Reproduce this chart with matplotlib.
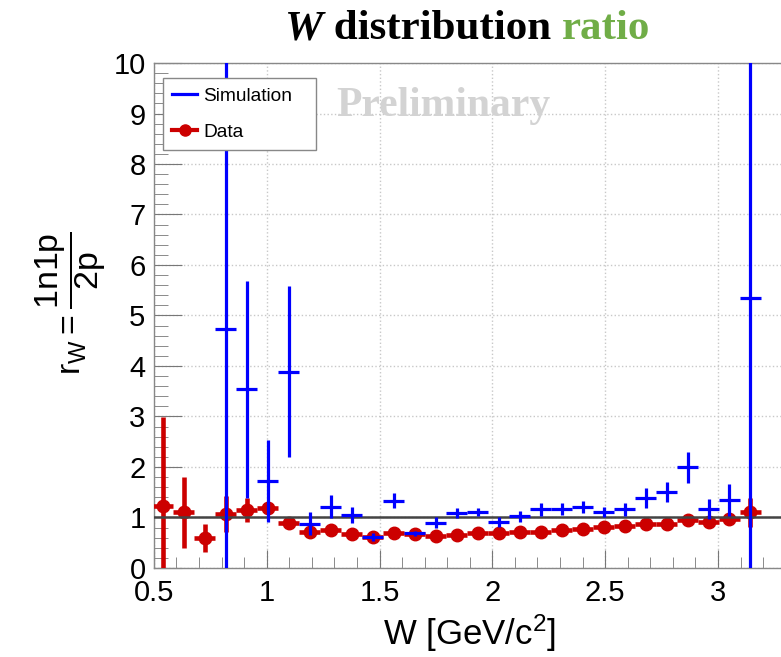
import matplotlib
matplotlib.use('Agg')
import matplotlib.pyplot as plt
import numpy as np
from matplotlib.lines import Line2D
from matplotlib.ticker import MultipleLocator

plt.rcParams['font.family'] = ['Liberation Sans', 'DejaVu Sans']
plt.rcParams['mathtext.fontset'] = 'custom'
plt.rcParams['mathtext.rm'] = 'Liberation Sans'
plt.rcParams['mathtext.it'] = 'Liberation Sans:italic'

# W bin centres [GeV/c^2]
w_bins = [0.540, 0.633, 0.726, 0.819, 0.912, 1.005, 1.098, 1.191, 1.284, 1.377,
          1.470, 1.563, 1.656, 1.749, 1.842, 1.935, 2.028, 2.121, 2.214, 2.307,
          2.400, 2.493, 2.586, 2.679, 2.772, 2.865, 2.958, 3.051, 3.144]
bin_half = 0.0465

# data ratio 1n1p / 2p
data_ratio = [1.23, 1.10, 0.60, 1.07, 1.15, 1.18, 0.90, 0.72, 0.75, 0.67,
              0.62, 0.69, 0.67, 0.64, 0.65, 0.69, 0.69, 0.71, 0.72, 0.75,
              0.77, 0.81, 0.84, 0.88, 0.88, 0.95, 0.91, 0.96, 1.10]
data_err = [1.75, 0.70, 0.28, 0.36, 0.23, 0.10, 0.05, 0.04, 0.04, 0.04,
            0.04, 0.04, 0.04, 0.04, 0.04, 0.04, 0.04, 0.04, 0.04, 0.04,
            0.04, 0.04, 0.04, 0.04, 0.04, 0.04, 0.04, 0.04, 0.28]

# simulation ratio (no entries in the first bins)
sim_ratio = [np.nan, np.nan, np.nan, 4.73, 3.54, 1.72, 3.89, 0.88, 1.21, 1.05,
             0.62, 1.33, 0.69, 0.90, 1.08, 1.10, 0.91, 1.02, 1.16, 1.17,
             1.20, 1.10, 1.16, 1.39, 1.51, 1.99, 1.16, 1.35, 5.35]
sim_err = [np.nan, np.nan, np.nan, 6.0, 2.15, 0.81, 1.69, 0.23, 0.23, 0.15,
           0.08, 0.15, 0.05, 0.10, 0.10, 0.08, 0.10, 0.10, 0.13, 0.12,
           0.12, 0.10, 0.13, 0.20, 0.20, 0.31, 0.20, 0.32, 6.0]

RED = '#cc0000'
BLUE = '#0000ff'

fig = plt.figure(figsize=(7.81, 6.57), dpi=100)
ax = fig.add_axes([0.197, 0.1355, 0.809, 0.7686])

ax.errorbar(w_bins, data_ratio, yerr=data_err, xerr=bin_half, fmt='o', color=RED,
            ms=9, elinewidth=3.3, capsize=0, zorder=3)
ax.axhline(1, color='#444444', lw=1.8, zorder=4)
ax.errorbar(w_bins, sim_ratio, yerr=sim_err, xerr=bin_half, fmt='none', ecolor=BLUE,
            elinewidth=2.3, capsize=0, zorder=5)

ax.set_xlim(0.5, 3.3)
ax.set_ylim(0, 10)
ax.xaxis.set_major_locator(MultipleLocator(0.5))
ax.xaxis.set_minor_locator(MultipleLocator(0.1))
ax.yaxis.set_major_locator(MultipleLocator(1))
ax.yaxis.set_minor_locator(MultipleLocator(0.2))
ax.xaxis.set_major_formatter(matplotlib.ticker.FuncFormatter(lambda v, p: f'{v:g}'))
ax.grid(True, which='major', color='#c8c8c8', ls=':', lw=1)
ax.set_axisbelow(True)

ax.tick_params(axis='both', which='both', direction='in', labelsize=21, color='#777777')
ax.tick_params(axis='x', which='major', length=13, pad=8)
ax.tick_params(axis='x', which='minor', length=8)
ax.tick_params(axis='y', which='major', length=20, pad=6)
ax.tick_params(axis='y', which='minor', length=10)
for s in ax.spines.values():
    s.set_color('#888888')
    s.set_linewidth(1)

ax.set_xlabel(r'W [GeV/c$^2$]', fontsize=25, labelpad=4)
ax.set_ylabel(r'$\mathrm{r_W = \dfrac{1n1p}{2p}}$', fontsize=24.5)
ax.yaxis.set_label_coords(-0.072, 0.525)

# legend
handles = [Line2D([], [], color=BLUE, lw=2.3),
           Line2D([], [], color=RED, lw=3, marker='o', ms=8)]
leg = ax.legend(handles, ['Simulation', 'Data'], loc='upper left',
                bbox_to_anchor=(0.0142, 0.836, 0.242, 0.134), mode='expand',
                fontsize=13.8, frameon=True,
                fancybox=False, edgecolor='#888888', framealpha=1,
                handlelength=1.3, handletextpad=0.3, labelspacing=0.95,
                borderpad=0.5, borderaxespad=0)
leg.get_frame().set_linewidth(1)
leg.set_zorder(10)

# watermark
ax.text(0.458, 0.914, 'Preliminary', transform=ax.transAxes, ha='center', va='center',
        fontsize=30, fontweight='bold', family='Liberation Serif', color='#d3d3d3')

# title
t1 = fig.text(0.364, 0.94, 'W', fontsize=31, fontweight='bold', style='italic',
              family='Liberation Serif', va='baseline')
t2 = fig.text(0, 0, ' distribution ', fontsize=31, fontweight='bold',
              family='Liberation Serif', va='baseline')
t3 = fig.text(0, 0, 'ratio', fontsize=31, fontweight='bold',
              family='Liberation Serif', color='#70ad47', va='baseline')
fig.canvas.draw()
r = fig.canvas.get_renderer()
inv = fig.transFigure.inverted()
x1 = inv.transform(t1.get_window_extent(r))[1, 0]
t2.set_position((x1, 0.94))
x2 = inv.transform(t2.get_window_extent(r))[1, 0]
t3.set_position((x2, 0.94))

fig.savefig('out.png', dpi=100)
